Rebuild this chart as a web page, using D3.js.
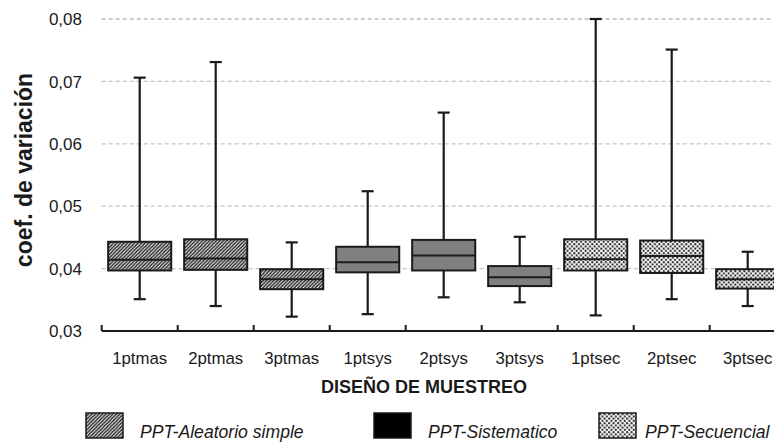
<!DOCTYPE html>
<html>
<head>
<meta charset="utf-8">
<script src="https://cdn.jsdelivr.net/npm/d3@7/dist/d3.min.js"></script>
<style>
  html, body { margin: 0; padding: 0; background: #fff; }
  svg { display: block; }
  text { font-family: "Liberation Sans", Arial, sans-serif; fill: #1a1a1a; }
</style>
</head>
<body>
<svg id="chart" width="774" height="443"></svg>
<script>
// ---- data ----
const categories = ["1ptmas", "2ptmas", "3ptmas", "1ptsys", "2ptsys", "3ptsys", "1ptsec", "2ptsec", "3ptsec"];
const groups     = ["mas", "mas", "mas", "sys", "sys", "sys", "sec", "sec", "sec"];
const whiskerLow  = [0.0351, 0.0340, 0.0323, 0.0327, 0.0354, 0.0346, 0.0325, 0.0351, 0.0340];
const q1          = [0.0397, 0.0398, 0.0367, 0.0394, 0.0397, 0.0372, 0.0397, 0.0393, 0.0368];
const median      = [0.0414, 0.0416, 0.0383, 0.0410, 0.0421, 0.0386, 0.0415, 0.0420, 0.0383];
const q3          = [0.0443, 0.0447, 0.0399, 0.0435, 0.0446, 0.0404, 0.0447, 0.0445, 0.0399];
const whiskerHigh = [0.0706, 0.0731, 0.0442, 0.0524, 0.0650, 0.0451, 0.0800, 0.0751, 0.0427];
const yTickValues = [0.03, 0.04, 0.05, 0.06, 0.07, 0.08];
const yTickLabels = ["0,03", "0,04", "0,05", "0,06", "0,07", "0,08"];
const legendKeys   = ["mas", "sys", "sec"];
const legendLabels = ["PPT-Aleatorio simple", "PPT-Sistematico", "PPT-Secuencial"];
const yTitle = "coef. de variación";
const xTitle = "DISEÑO DE MUESTREO";

// ---- layout ----
const svg = d3.select("#chart");
const plotLeft = 101.7, step = 76, plotTop = 19, plotBottom = 331;

const x = d3.scaleBand().domain(categories).range([plotLeft, plotLeft + step * categories.length]).padding(0);
const y = d3.scaleLinear().domain([0.03, 0.08]).range([plotBottom, plotTop]);

// patterns
const defs = svg.append("defs");
const hatch = defs.append("pattern").attr("id", "hatch").attr("patternUnits", "userSpaceOnUse")
  .attr("width", 3.5).attr("height", 3.5);
hatch.append("rect").attr("width", 3.5).attr("height", 3.5).attr("fill", "#fff");
hatch.append("path").attr("d", "M-1,1 L1,-1 M0,3.5 L3.5,0 M2.5,4.5 L4.5,2.5")
  .attr("stroke", "#222").attr("stroke-width", 1.4);

const dots = defs.append("pattern").attr("id", "dots").attr("patternUnits", "userSpaceOnUse")
  .attr("width", 4.5).attr("height", 4.5);
dots.append("rect").attr("width", 4.5).attr("height", 4.5).attr("fill", "#fff");
dots.append("circle").attr("cx", 1.1).attr("cy", 1.1).attr("r", 1.1).attr("fill", "#222");
dots.append("circle").attr("cx", 3.35).attr("cy", 3.35).attr("r", 1.1).attr("fill", "#222");

const fills = { mas: "url(#hatch)", sys: "#808080", sec: "url(#dots)" };
const legendFills = { mas: "url(#hatch)", sys: "#000", sec: "url(#dots)" };

// gridlines
svg.append("g").selectAll("line")
  .data(yTickValues.filter(v => v > 0.03))
  .join("line")
  .attr("x1", plotLeft).attr("x2", 774)
  .attr("y1", d => y(d)).attr("y2", d => y(d))
  .attr("stroke", d => d === 0.08 ? "#999" : "#c4c4c4")
  .attr("stroke-width", 1.2)
  .attr("stroke-dasharray", "4,3");

// y tick labels
svg.append("g").selectAll("text")
  .data(yTickValues)
  .join("text")
  .attr("x", 82).attr("y", d => y(d))
  .attr("dy", "0.36em")
  .attr("text-anchor", "end")
  .attr("font-size", 17)
  .text((d, i) => yTickLabels[i]);

// x axis
const xAxis = d3.axisBottom(x).tickSize(0).tickFormat("");
const gx = svg.append("g").attr("transform", `translate(0,${plotBottom})`).call(xAxis);
gx.select(".domain").remove();
svg.append("line").attr("x1", plotLeft).attr("x2", 774)
  .attr("y1", plotBottom).attr("y2", plotBottom)
  .attr("stroke", "#1a1a1a").attr("stroke-width", 2);
const boundaries = categories.map(c => x(c));
svg.append("g").selectAll("line")
  .data(boundaries)
  .join("line")
  .attr("x1", d => d).attr("x2", d => d)
  .attr("y1", plotBottom - 6).attr("y2", plotBottom)
  .attr("stroke", "#1a1a1a").attr("stroke-width", 2);

// x tick labels
svg.append("g").selectAll("text")
  .data(categories)
  .join("text")
  .attr("x", d => x(d) + x.bandwidth() / 2)
  .attr("y", 364)
  .attr("text-anchor", "middle")
  .attr("font-size", 16.8)
  .text(d => d);

// boxes
const boxW = x.bandwidth() * 0.83;
const capW = 12;
const g = svg.append("g").selectAll("g")
  .data(categories.map((c, i) => ({ c, i })))
  .join("g")
  .attr("transform", d => `translate(${x(d.c) + x.bandwidth() / 2},0)`);

g.append("line")
  .attr("x1", 0).attr("x2", 0)
  .attr("y1", d => y(whiskerHigh[d.i])).attr("y2", d => y(whiskerLow[d.i]))
  .attr("stroke", "#1a1a1a").attr("stroke-width", 2.2);
g.append("line")
  .attr("x1", -capW / 2).attr("x2", capW / 2)
  .attr("y1", d => y(whiskerHigh[d.i])).attr("y2", d => y(whiskerHigh[d.i]))
  .attr("stroke", "#1a1a1a").attr("stroke-width", 2.2);
g.append("line")
  .attr("x1", -capW / 2).attr("x2", capW / 2)
  .attr("y1", d => y(whiskerLow[d.i])).attr("y2", d => y(whiskerLow[d.i]))
  .attr("stroke", "#1a1a1a").attr("stroke-width", 2.2);
g.append("rect")
  .attr("x", -boxW / 2).attr("width", boxW)
  .attr("y", d => y(q3[d.i])).attr("height", d => y(q1[d.i]) - y(q3[d.i]))
  .attr("fill", d => fills[groups[d.i]])
  .attr("stroke", "#1a1a1a").attr("stroke-width", 2);
g.append("line")
  .attr("x1", -boxW / 2).attr("x2", boxW / 2)
  .attr("y1", d => y(median[d.i])).attr("y2", d => y(median[d.i]))
  .attr("stroke", "#1a1a1a").attr("stroke-width", 2);

// axis titles
svg.append("text")
  .attr("transform", "translate(32,170) rotate(-90)")
  .attr("text-anchor", "middle")
  .attr("font-size", 23).attr("font-weight", "bold")
  .text(yTitle);
svg.append("text")
  .attr("x", 424).attr("y", 393)
  .attr("text-anchor", "middle")
  .attr("font-size", 18).attr("font-weight", "bold")
  .text(xTitle);

// legend
const legendPos = [86, 374, 599];
const legendTextOffset = [54, 54, 46];
const leg = svg.append("g").selectAll("g")
  .data(legendKeys.map((k, i) => ({ k, i })))
  .join("g")
  .attr("transform", d => `translate(${legendPos[d.i]},413)`);
leg.append("rect")
  .attr("width", 37).attr("height", 25)
  .attr("fill", d => legendFills[d.k])
  .attr("stroke", "#1a1a1a").attr("stroke-width", 1.5);
leg.append("text")
  .attr("x", d => legendTextOffset[d.i])
  .attr("y", 25)
  .attr("font-size", 17.6).attr("font-style", "italic")
  .text(d => legendLabels[d.i]);
</script>
</body>
</html>
